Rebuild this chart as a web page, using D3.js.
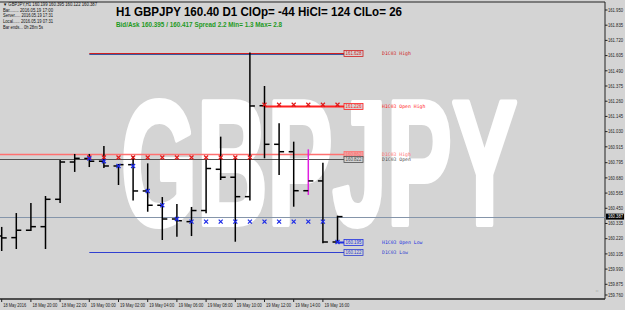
<!DOCTYPE html>
<html>
<head>
<meta charset="utf-8">
<script src="https://cdn.jsdelivr.net/npm/d3@7"></script>
<style>
body { margin: 0; background: #d4d4d4; }
svg { display: block; }
</style>
</head>
<body>
<svg id="chart"></svg>
<script>
// hourly bars, 18 May 18:00 .. 19 May 17:00
const times = ['18 18:00', '18 19:00', '18 20:00', '18 21:00', '18 22:00', '18 23:00',
	'19 00:00', '19 01:00', '19 02:00', '19 03:00', '19 04:00', '19 05:00',
	'19 06:00', '19 07:00', '19 08:00', '19 09:00', '19 10:00', '19 11:00',
	'19 12:00', '19 13:00', '19 14:00', '19 15:00', '19 16:00', '19 17:00'];
const opens  = [160.240, 160.228, 160.284, 160.311, 160.518, 160.800, 160.827, 160.806, 160.770, 160.780, 160.581, 160.473,
	160.369, 160.349, 160.433, 160.745, 160.685, 160.538, 161.226, 160.934, 160.878, 160.583, 160.657, 160.195];
const highs  = [160.309, 160.414, 160.490, 160.543, 160.815, 160.861, 160.861, 160.921, 160.785, 160.846, 160.790, 160.535,
	160.483, 160.460, 160.815, 160.992, 160.828, 161.628, 161.375, 161.093, 160.954, 160.896, 160.795, 160.394];
const lows   = [160.127, 160.142, 160.278, 160.142, 160.490, 160.725, 160.762, 160.755, 160.626, 160.508, 160.424, 160.210,
	160.235, 160.240, 160.412, 160.664, 160.197, 160.508, 160.828, 160.702, 160.462, 160.551, 160.185, 160.190];
const closes = [160.226, 160.284, 160.311, 160.518, 160.800, 160.828, 160.806, 160.770, 160.780, 160.581, 160.473, 160.369,
	160.356, 160.433, 160.751, 160.685, 160.538, 161.224, 160.934, 160.878, 160.583, 160.657, 160.195, 160.387];

const dayStart = 6;       // first bar of 19 May
const markedBar = 21;

const timeTickIdx = [0, 2, 4, 6, 8, 10, 12, 14, 16, 18, 20, 22];
const timeTickLabels = ['18 May 2016', '18 May 20:00', '18 May 22:00', '19 May 00:00', '19 May 02:00', '19 May 04:00',
	'19 May 06:00', '19 May 08:00', '19 May 10:00', '19 May 12:00', '19 May 14:00', '19 May 16:00'];
const priceTicks = [161.950, 161.835, 161.720, 161.605, 161.490, 161.375, 161.260, 161.145, 161.030, 160.915,
	160.795, 160.680, 160.565, 160.450, 160.335, 160.220, 160.105, 159.990, 159.875, 159.760];

const levelNames  = ['D1C03 High', 'H1C03 Open High', 'D1C03 High', 'D1C03 Open', 'H1C03 Open Low', 'D1C03 Low'];
const levelPrices = [161.628, 161.226, 160.862, 160.822, 160.195, 160.122];

const bid = 160.387;
const infoLines = ['\u25BC GBPJPY,H1  160.199 160.395 160.122 160.387',
	'Bar........  2016.05.19 17:00',
	'Server.....  2016.05.19 17:31',
	'Local......  2016.05.19 07:31',
	'Bar ends...  0h 28m 5s'];
const title = 'H1 GBPJPY 160.40 D1 ClOp= -44 HiCl= 124 ClLo= 26';
const subtitle = 'Bid/Ask 160.395 / 160.417  Spread 2.2  Min= 1.3  Max= 2.8';

const width = 625, height = 310;
const plotRight = 605, plotTop = 2, plotBottom = 299;
const labelX = 344;
const font = '"Liberation Sans", Arial, sans-serif';

const svg = d3.select('#chart').attr('width', width).attr('height', height);
svg.append('rect').attr('width', width).attr('height', height).attr('fill', '#d4d4d4');

const x = d3.scaleLinear().domain([0, times.length - 1]).range([1.7, 337.5]);
const y = d3.scaleLinear().domain([159.760, 161.950]).range([299.5, 10]);

// watermark
svg.append('text')
	.attr('x', 121).attr('y', 224)
	.attr('textLength', 396).attr('lengthAdjust', 'spacingAndGlyphs')
	.attr('font-family', font).attr('font-weight', 'bold').attr('font-size', 176)
	.attr('fill', '#ffffff').attr('stroke', '#ffffff').attr('stroke-width', 6)
	.attr('stroke-linejoin', 'round')
	.text('GBPJPY');

// frame
const frame = svg.append('g').attr('stroke', '#222').attr('fill', 'none');
frame.append('line').attr('x1', 0).attr('x2', plotRight).attr('y1', plotTop).attr('y2', plotTop);
frame.append('line').attr('x1', plotRight).attr('x2', plotRight).attr('y1', plotTop).attr('y2', plotBottom);
frame.append('line').attr('x1', 0).attr('x2', plotRight).attr('y1', plotBottom).attr('y2', plotBottom).attr('stroke-width', 1.5);

// bid line
svg.append('line')
	.attr('x1', 0).attr('x2', plotRight)
	.attr('y1', Math.round(y(bid)) + 0.5).attr('y2', Math.round(y(bid)) + 0.5)
	.attr('stroke', '#8595aa');

// level lines
const levels = levelNames.map((name, i) => ({ name, price: levelPrices[i] }));
const levelStyle = [
	{ color: '#d02020', from: x(dayStart), width: 1 },
	{ color: '#ff2020', from: x(18), width: 2 },
	{ color: '#ff7070', from: 0, width: 1.5 },
	{ color: '#505050', from: 0, width: 1 },
	{ color: '#2030e0', from: x(23), width: 2 },
	{ color: '#3040d0', from: x(dayStart), width: 1 }
];
const levelG = svg.append('g');
levels.forEach((d, i) => {
	const s = levelStyle[i];
	const ly = Math.round(y(d.price)) + 0.5;
	levelG.append('line')
		.attr('x1', s.from).attr('x2', labelX)
		.attr('y1', ly).attr('y2', ly)
		.attr('stroke', s.color).attr('stroke-width', s.width);
	if (i === 0) {
		levelG.append('line')
			.attr('x1', s.from).attr('x2', labelX)
			.attr('y1', ly + 1).attr('y2', ly + 1)
			.attr('stroke', '#3a5aa0').attr('stroke-width', 1);
	}
	levelG.append('rect')
		.attr('x', labelX).attr('y', ly - 3)
		.attr('width', 19).attr('height', 6)
		.attr('fill', i === 2 ? '#f0a0a0' : '#d4d4d4')
		.attr('stroke', s.color).attr('stroke-width', 0.8);
	levelG.append('text')
		.attr('x', labelX + 9.5).attr('y', ly + 1.6)
		.attr('text-anchor', 'middle')
		.attr('textLength', 16).attr('lengthAdjust', 'spacingAndGlyphs')
		.attr('font-family', font).attr('font-size', '4.5px')
		.attr('fill', s.color)
		.text(d3.format('.3f')(d.price));
	levelG.append('text')
		.attr('x', 382).attr('y', ly + 1.8)
		.attr('font-family', '"DejaVu Sans Mono", monospace').attr('font-size', '4.8px')
		.attr('fill', s.color)
		.text(d.name);
});

// bars
const bars = svg.append('g');
times.forEach((t, i) => {
	const bx = x(i);
	const c = i === markedBar ? '#e020e0' : '#000';
	bars.append('line')
		.attr('x1', bx).attr('x2', bx)
		.attr('y1', y(highs[i])).attr('y2', y(lows[i]))
		.attr('stroke', c).attr('stroke-width', 1.5);
	bars.append('line')
		.attr('x1', bx - 5).attr('x2', bx)
		.attr('y1', y(opens[i])).attr('y2', y(opens[i]))
		.attr('stroke', '#000').attr('stroke-width', 1.5);
	bars.append('line')
		.attr('x1', bx).attr('x2', bx + 5)
		.attr('y1', y(closes[i])).attr('y2', y(closes[i]))
		.attr('stroke', '#000').attr('stroke-width', 1.5);
});

// running open high / open low markers for the day
const marks = svg.append('g').attr('stroke-width', 1.2);
let openHi = -Infinity, openLo = Infinity;
const cross = (g, cx, cy, color) => {
	g.append('path')
		.attr('d', `M${cx - 2},${cy - 2}L${cx + 2},${cy + 2}M${cx - 2},${cy + 2}L${cx + 2},${cy - 2}`)
		.attr('stroke', color);
};
for (let i = dayStart; i < times.length; i++) {
	openHi = Math.max(openHi, opens[i]);
	openLo = Math.min(openLo, opens[i]);
	cross(marks, x(i), y(openHi) - 1, '#e01818');
	cross(marks, x(i), y(openLo), '#1a28e8');
}

// price axis
const axisG = svg.append('g');
priceTicks.forEach(p => {
	const py = Math.min(y(p), 295);
	axisG.append('line')
		.attr('x1', plotRight).attr('x2', plotRight + 2.5)
		.attr('y1', py).attr('y2', py).attr('stroke', '#222');
	axisG.append('text')
		.attr('x', 608).attr('y', py + 1.7)
		.attr('textLength', 15).attr('lengthAdjust', 'spacingAndGlyphs')
		.attr('font-family', font).attr('font-size', '4.8px')
		.attr('fill', '#222')
		.text(d3.format('.3f')(p));
});
const by = y(bid);
axisG.append('rect').attr('x', 606).attr('y', by - 3).attr('width', 18).attr('height', 6).attr('fill', '#000');
axisG.append('text')
	.attr('x', 608).attr('y', by + 1.7)
	.attr('textLength', 15).attr('lengthAdjust', 'spacingAndGlyphs')
	.attr('font-family', font).attr('font-size', '4.8px')
	.attr('fill', '#fff')
	.text(d3.format('.3f')(bid));

// time axis
timeTickIdx.forEach((idx, k) => {
	const tx = x(idx);
	svg.append('line')
		.attr('x1', tx).attr('x2', tx)
		.attr('y1', plotBottom).attr('y2', plotBottom + 3)
		.attr('stroke', '#222');
	svg.append('text')
		.attr('x', tx + 1.5).attr('y', 306.5)
		.attr('textLength', k === 0 ? 23 : 25).attr('lengthAdjust', 'spacingAndGlyphs')
		.attr('font-family', font).attr('font-size', '4.6px')
		.attr('fill', '#222')
		.text(timeTickLabels[k]);
});

// header texts
const info = svg.append('g')
	.attr('font-family', font).attr('font-size', '4.6px').attr('fill', '#111');
infoLines.forEach((s, i) => {
	info.append('text').attr('x', 3).attr('y', 5.8 + i * 5.8)
		.attr('textLength', i === 0 ? 94 : (i === 4 ? 40 : 50)).attr('lengthAdjust', 'spacingAndGlyphs')
		.text(s);
});

svg.append('text')
	.attr('x', 116).attr('y', 15.5)
	.attr('textLength', 286).attr('lengthAdjust', 'spacingAndGlyphs')
	.attr('font-family', font).attr('font-weight', 'bold').attr('font-size', 12.5)
	.attr('fill', '#000')
	.text(title);
svg.append('text')
	.attr('x', 116).attr('y', 27)
	.attr('textLength', 166).attr('lengthAdjust', 'spacingAndGlyphs')
	.attr('font-family', font).attr('font-weight', 'bold').attr('font-size', 7)
	.attr('fill', '#1e9a1e')
	.text(subtitle);

// small rotated glyph near bottom right
svg.append('text')
	.attr('transform', 'translate(598,292) rotate(-90)')
	.attr('font-family', font).attr('font-size', '4px')
	.attr('fill', '#555')
	.text('::');
</script>
</body>
</html>
